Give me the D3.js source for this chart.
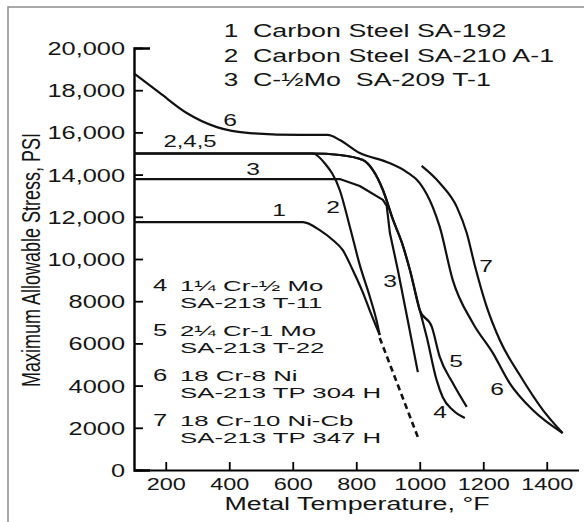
<!DOCTYPE html>
<html>
<head>
<meta charset="utf-8">
<script src="https://cdn.jsdelivr.net/npm/d3@7"></script>
<style>
body { margin: 0; background: #fff; }
svg { display: block; font-family: "Liberation Sans", Arial, sans-serif; }
text { white-space: pre; fill: #151515; }
</style>
</head>
<body>
<svg id="chart" width="584" height="522"></svg>
<script>
// [temperature °F, allowable stress psi]
var curve1 = [[100,11750],[632,11750],[685,11370],[726,10900],[757,10430],[789,9480],[820,8440],[842,7580],[861,6870],[874,6400]];
var curve2 = [[100,15000],[663,15000],[700,14550],[748,13270],[780,11520],[811,9720],[843,8200],[862,7200],[874,6400]];
var curve3 = [[100,13790],[748,13790],[811,13460],[884,12800],[896,12510],[906,11230],[931,9480],[962,7110],[994,4640]];
var curve4 = [[100,15000],[663,15000],[748,14930],[821,14690],[852,14220],[884,13270],[916,11850],[944,10760],[969,9480],[1000,7580],
              [1022,6300],[1053,4270],[1072,3460],[1104,2840],[1142,2460]];
var curve5 = [[100,15000],[663,15000],[748,14930],[821,14690],[852,14220],[884,13270],[916,11850],[944,10760],[969,9480],[1000,7580],
              [1038,6780],[1063,5360],[1104,4120],[1148,2990]];
var curve6 = [[100,18800],[181,17870],[266,16920],[361,16250],[465,15970],[622,15880],[710,15880],[748,15640],[811,15020],[896,14600],
              [959,14120],[1000,13600],[1041,12460],[1063,11520],[1104,9000],[1167,6970],[1230,5550],[1283,4120],[1356,2840],[1450,1750]];
var curve7 = [[1006,14410],[1063,13600],[1117,12460],[1148,11230],[1173,9720],[1211,7730],[1252,6160],[1315,4500],[1388,2840],[1450,1750]];
var extrapolated = [[874,6260],[994,1560]];

var xTicks = [200, 400, 600, 800, 1000, 1200, 1400];
var xTickLabels = ["200", "400", "600", "800", "1000", "1200", "1400"];
var yTicks = [0, 2000, 4000, 6000, 8000, 10000, 12000, 14000, 16000, 18000, 20000];
var yTickLabels = ["0","2000","4000","6000","8000","10,000","12,000","14,000","16,000","18,000","20,000"];

var legendTop = [["1", "Carbon Steel SA-192"], ["2", "Carbon Steel SA-210 A-1"], ["3", "C-\u00BDMo  SA-209 T-1"]];
var legendBottom = [["4", "1\u00BC Cr-\u00BD Mo", "SA-213 T-11"],
                    ["5", "2\u00BC Cr-1 Mo", "SA-213 T-22"],
                    ["6", "18 Cr-8 Ni", "SA-213 TP 304 H"],
                    ["7", "18 Cr-10 Ni-Cb", "SA-213 TP 347 H"]];
var curveTags = ["6", "2,4,5", "3", "1", "2", "3", "7", "5", "4", "6"];

var SX = 1.45; // the scan is stretched sideways, so is the lettering

var svg = d3.select("#chart");
var x = d3.scaleLinear().domain([100, 1500]).range([134, 578.5]);
var y = d3.scaleLinear().domain([0, 20000]).range([470, 48]);

function label(px, py, s, size, anchor, sx) {
  return svg.append("text")
    .attr("transform", "translate(" + px + "," + py + ") scale(" + (sx || SX) + ",1)")
    .attr("text-anchor", anchor || "start")
    .style("font-size", size + "px")
    .text(s);
}

// frame edge of the scan
svg.append("path").attr("d", "M8,522V7H584")
  .attr("fill", "none").attr("stroke", "#8c8c8c").attr("stroke-width", 1.5);

// axes
var gy = svg.append("g").attr("transform", "translate(134,0)")
  .call(d3.axisLeft(y).tickValues(yTicks).tickSizeInner(-9).tickSizeOuter(-16)
    .tickFormat(function(d, i) { return yTickLabels[i]; }))
  .attr("font-size", null).attr("font-family", null);
gy.select(".domain").attr("stroke-width", 2.4);
gy.selectAll(".tick line").attr("stroke-width", 1.8);
gy.selectAll("text").attr("x", null).attr("dy", null)
  .attr("transform", "translate(-9,6.5) scale(" + SX + ",1)")
  .style("font-size", "17.5px");

var gx = svg.append("g").attr("transform", "translate(0,470)")
  .call(d3.axisBottom(x).tickValues(xTicks).tickSizeInner(-8).tickSizeOuter(0)
    .tickFormat(function(d, i) { return xTickLabels[i]; }))
  .attr("font-size", null).attr("font-family", null);
gx.select(".domain").attr("stroke-width", 2);
gx.selectAll(".tick line").attr("stroke-width", 1.8);
gx.selectAll("text").attr("y", null).attr("dy", null)
  .attr("transform", "translate(0,20) scale(1.38,1)")
  .style("font-size", "17px");

// curves
var smooth = d3.line().x(function(d) { return x(d[0]); }).y(function(d) { return y(d[1]); }).curve(d3.curveMonotoneX);
var straight = d3.line().x(function(d) { return x(d[0]); }).y(function(d) { return y(d[1]); });

[curve1, curve2, curve4, curve5, curve6, curve7].forEach(function(c) {
  svg.append("path").datum(c).attr("d", smooth)
    .attr("fill", "none").attr("stroke", "#111").attr("stroke-width", 2.2);
});
svg.append("path").datum(curve3).attr("d", straight)
  .attr("fill", "none").attr("stroke", "#111").attr("stroke-width", 2.2).attr("stroke-linejoin", "round");
svg.append("path").datum(extrapolated).attr("d", straight)
  .attr("fill", "none").attr("stroke", "#111").attr("stroke-width", 2.6).attr("stroke-dasharray", "6,4");

// curve numbers
var tagPos = [[230,126],[190,147],[253,175],[279,216],[333,213],[390,287],[486,272],[456,367],[440,418],[497,395]];
curveTags.forEach(function(t, i) {
  label(tagPos[i][0], tagPos[i][1], t, t.length > 1 ? 16.5 : 17, "middle");
});

// legends
legendTop.forEach(function(r, i) {
  var by = [37, 62, 86][i];
  label(231, by, r[0], 18, "middle");
  label(253, by, r[1], 18.5);
});
legendBottom.forEach(function(r, i) {
  var by = 291 + i * 45;
  label(160, by, r[0], 16, "middle", 1.6);
  label(180, by, r[1], 15, "start", 1.72);
  label(180, by + 16.8, r[2], 15, "start", 1.72);
});

// axis titles
label(357, 510, "Metal Temperature, \u00B0F", 18.5, "middle");
svg.append("text")
  .attr("transform", "translate(40,260) scale(" + SX + ",1) rotate(-90)")
  .attr("text-anchor", "middle")
  .style("font-size", "18px")
  .text("Maximum Allowable Stress, PSI");
</script>
</body>
</html>
